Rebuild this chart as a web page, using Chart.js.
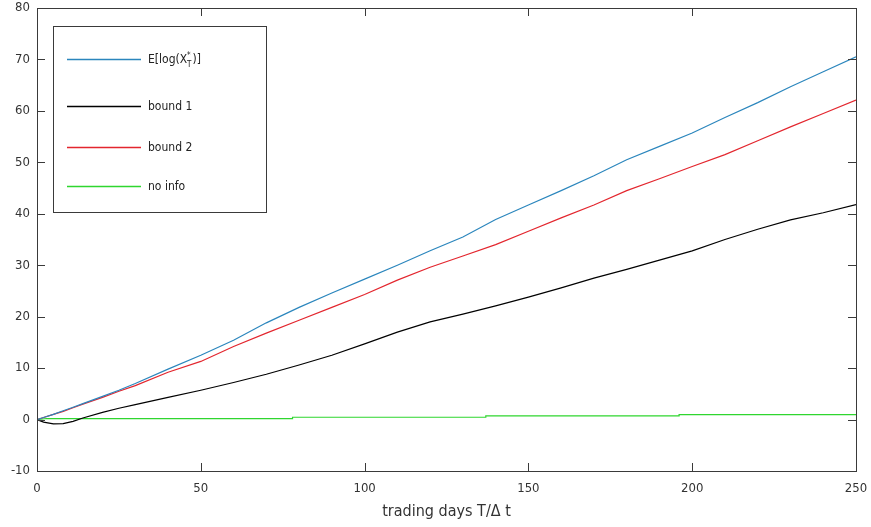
<!DOCTYPE html>
<html>
<head>
<meta charset="utf-8">
<script src="https://cdn.jsdelivr.net/npm/chart.js@4/dist/chart.umd.min.js"></script>
<style>
html,body{margin:0;padding:0;background:#fff;}
#wrap{width:871px;height:527px;position:relative;}
</style>
</head>
<body>
<div id="wrap"><canvas id="c" width="871" height="527"></canvas></div>
<script>
// ---- data ----
const days = [0,2,5,8,11,14,20,25,30,40,50,60,70,80,90,100,110,120,130,140,150,160,170,180,190,200,210,220,230,240,250];
const expLog = [0,0.4,1.0,1.7,2.4,3.1,4.5,5.7,7.0,9.8,12.5,15.4,18.8,21.8,24.6,27.3,30.0,32.8,35.5,38.9,41.7,44.5,47.4,50.5,53.1,55.7,58.7,61.6,64.7,67.6,70.5];
const bound2 = [0,0.4,1.0,1.6,2.3,3.0,4.3,5.5,6.6,9.2,11.3,14.2,16.8,19.3,21.8,24.3,27.1,29.6,31.8,34.0,36.6,39.2,41.7,44.5,46.8,49.2,51.5,54.2,56.9,59.5,62.1];
const bound1 = [0,-0.5,-0.85,-0.8,-0.35,0.3,1.4,2.2,2.9,4.3,5.7,7.2,8.8,10.6,12.5,14.7,17.0,19.0,20.5,22.1,23.8,25.6,27.5,29.2,31.0,32.8,35.0,37.0,38.8,40.2,41.8];
const noInfoDays = [0,3,78,78,137,137,196,196,250];
const noInfo = [0,0.2,0.2,0.45,0.45,0.7,0.7,0.95,0.95];
const xTicks = [0,50,100,150,200,250];
const yTicks = [-10,0,10,20,30,40,50,60,70,80];
const labels = ['E[log(X*T)]','bound 1','bound 2','no info'];
const colors = ['#2b86bd','#000000','#e3262e','#2fd62f'];

const pts = (xs, ys) => xs.map((x,i)=>({x:x,y:ys[i]}));
const FONT = '"DejaVu Sans Condensed","DejaVu Sans",sans-serif';

const framePlugin = {
  id:'frame',
  afterDraw(chart){
    const ctx = chart.ctx, a = chart.chartArea;
    const xs = chart.scales.x, ys = chart.scales.y;
    ctx.save();
    ctx.strokeStyle = '#3a3a3a';
    ctx.lineWidth = 1;
    ctx.strokeRect(Math.round(a.left)+0.5, Math.round(a.top)+0.5, Math.round(a.right-a.left), Math.round(a.bottom-a.top));
    const L = 8;
    ctx.beginPath();
    xTicks.forEach(v=>{
      const px = Math.round(xs.getPixelForValue(v))+0.5;
      ctx.moveTo(px, a.bottom); ctx.lineTo(px, a.bottom-L);
      ctx.moveTo(px, a.top); ctx.lineTo(px, a.top+L);
    });
    yTicks.forEach(v=>{
      const py = Math.round(ys.getPixelForValue(v))+0.5;
      ctx.moveTo(a.left, py); ctx.lineTo(a.left+L, py);
      ctx.moveTo(a.right, py); ctx.lineTo(a.right-L, py);
    });
    ctx.stroke();

    // legend box
    const bx = 53, by = 26, bw = 213, bh = 186;
    ctx.fillStyle = '#fff';
    ctx.fillRect(bx, by, bw, bh);
    ctx.strokeStyle = '#3a3a3a';
    ctx.strokeRect(bx+0.5, by+0.5, bw, bh);
    const rows = [59, 106, 147, 186];
    chart.data.datasets.forEach((ds,i)=>{
      const y = rows[i]+0.5;
      ctx.strokeStyle = ds.borderColor;
      ctx.lineWidth = 1.3;
      ctx.beginPath(); ctx.moveTo(67,y); ctx.lineTo(141,y); ctx.stroke();
      ctx.fillStyle = '#222';
      ctx.textBaseline = 'middle';
      ctx.textAlign = 'left';
      ctx.font = '12px ' + FONT;
      if (i === 0) {
        let x = 148;
        const t1 = 'E[log(X';
        ctx.fillText(t1, x, y); x += ctx.measureText(t1).width;
        ctx.font = '8px ' + FONT;
        ctx.fillText('*', x, y-4);
        ctx.fillText('T', x, y+5);
        x += ctx.measureText('T').width + 1;
        ctx.font = '12px ' + FONT;
        ctx.fillText(')]', x, y);
      } else {
        ctx.fillText(ds.label, 148, y);
      }
    });
    ctx.restore();
  }
};

new Chart(document.getElementById('c'), {
  type:'line',
  data:{
    datasets:[
      {label:labels[0], data:pts(days, expLog), borderColor:colors[0]},
      {label:labels[1], data:pts(days, bound1), borderColor:colors[1]},
      {label:labels[2], data:pts(days, bound2), borderColor:colors[2]},
      {label:labels[3], data:pts(noInfoDays, noInfo), borderColor:colors[3]}
    ]
  },
  options:{
    responsive:false,
    animation:false,
    devicePixelRatio:1,
    layout:{padding:{left:0,right:15,top:8,bottom:0}},
    elements:{line:{borderWidth:1.2,tension:0},point:{radius:0}},
    plugins:{legend:{display:false},tooltip:{enabled:false}},
    scales:{
      x:{
        type:'linear', min:0, max:250,
        afterBuildTicks(s){ s.ticks = xTicks.map(v=>({value:v})); },
        afterFit(s){ s.height = 56; s.paddingLeft = 0; s.paddingRight = 0; },
        grid:{display:false, drawTicks:false},
        border:{display:false},
        ticks:{padding:10, color:'#333', font:{family:FONT, size:13}},
        title:{display:true, text:'trading days T/\u0394 t', color:'#333', font:{family:FONT, size:16}, padding:{top:0,bottom:6}}
      },
      y:{
        type:'linear', min:-10, max:80,
        afterBuildTicks(s){ s.ticks = yTicks.map(v=>({value:v})); },
        afterFit(s){ s.width = 37; s.paddingTop = 0; s.paddingBottom = 0; },
        grid:{display:false, drawTicks:false},
        border:{display:false},
        ticks:{padding:7, color:'#333', font:{family:FONT, size:13}}
      }
    }
  },
  plugins:[framePlugin]
});
</script>
</body>
</html>
